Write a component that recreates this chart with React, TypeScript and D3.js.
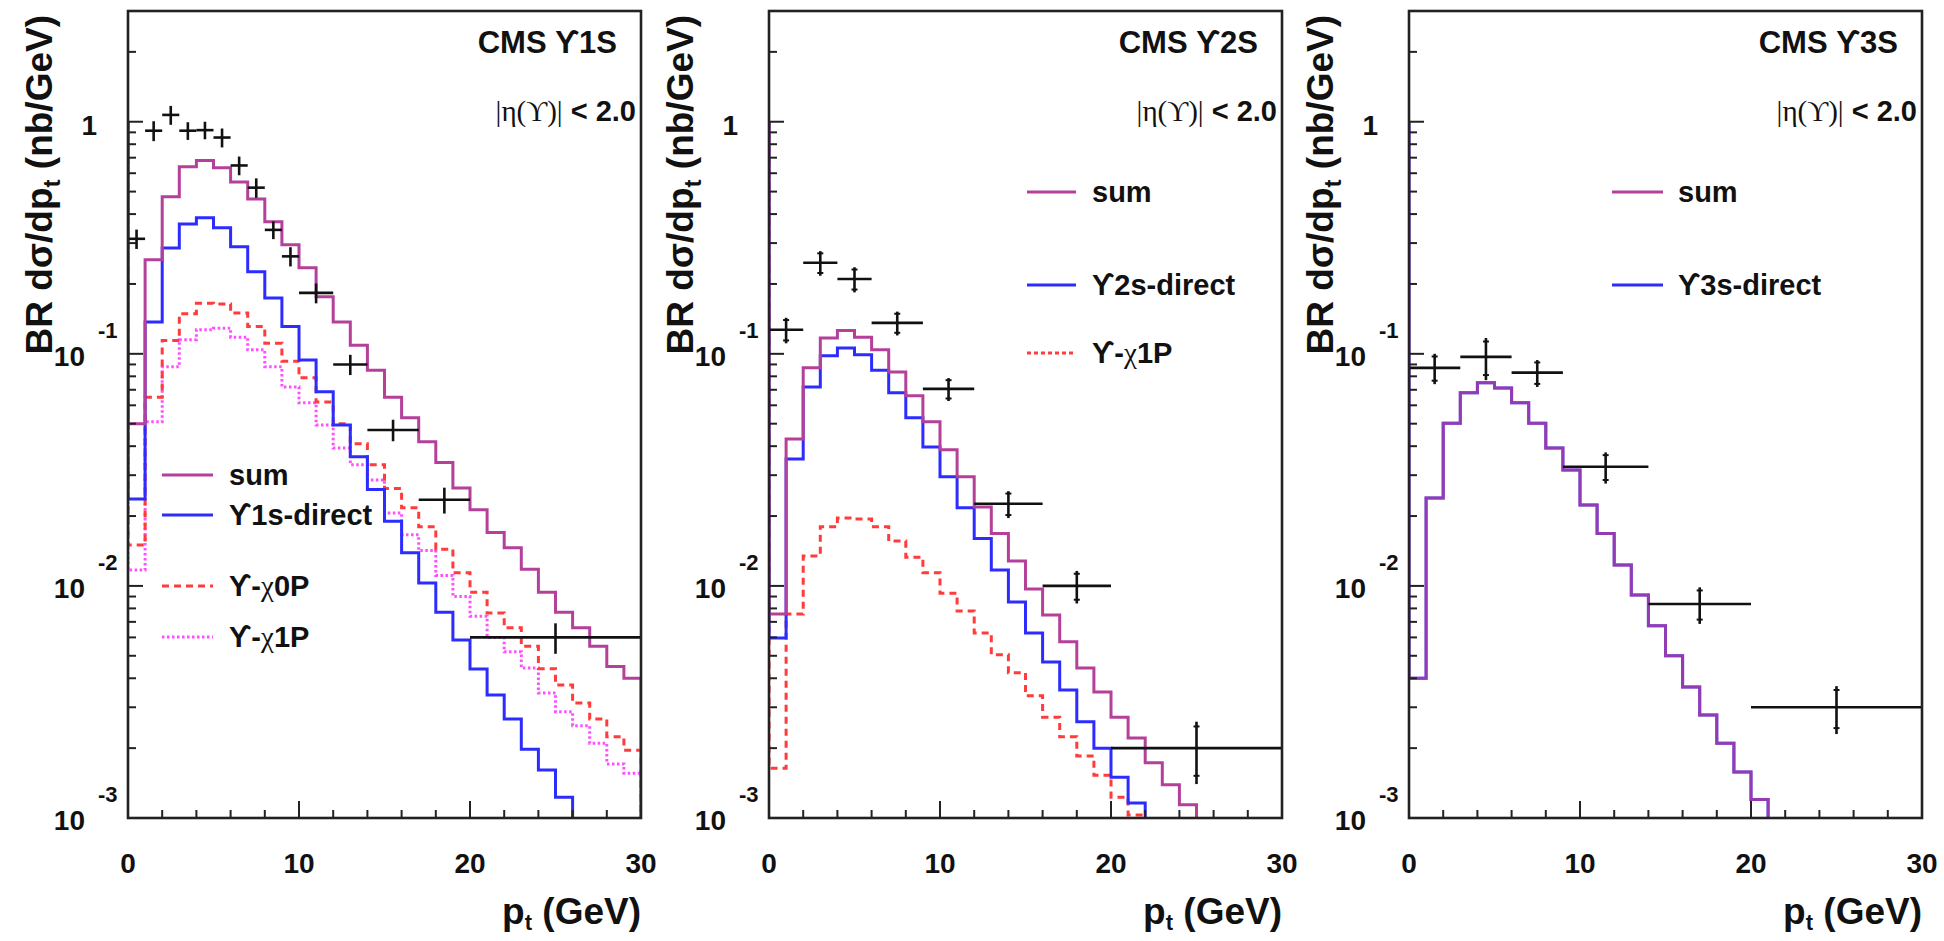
import React from 'react';
import * as d3 from 'd3';

// ---------------- data ----------------
const binEdges = [0, 1, 2, 3, 4, 5, 6, 7, 8, 9, 10, 11, 12, 13, 14, 15, 16, 17, 18, 19, 20, 21, 22, 23, 24, 25, 26, 27, 28, 29, 30];

// Panel 1 : Y1S
const p1Sum = [0.050, 0.254, 0.475, 0.64, 0.68, 0.633, 0.55, 0.465, 0.371, 0.295, 0.235, 0.176, 0.137, 0.109, 0.085, 0.065, 0.053, 0.0418, 0.034, 0.0264, 0.0213, 0.017, 0.0146, 0.0118, 0.0094, 0.0077, 0.0066, 0.0055, 0.0045, 0.004];
const p1Direct = [0.0237, 0.137, 0.286, 0.363, 0.386, 0.349, 0.289, 0.226, 0.174, 0.131, 0.094, 0.0686, 0.0494, 0.036, 0.026, 0.019, 0.0139, 0.0103, 0.0077, 0.00585, 0.00438, 0.00339, 0.00267, 0.00198, 0.00161, 0.00123, 0.0009, 0.0007, 0.00055, 0.00043];
const p1Chi0 = [0.015, 0.065, 0.114, 0.149, 0.165, 0.164, 0.15, 0.131, 0.111, 0.093, 0.0788, 0.062, 0.05, 0.041, 0.0333, 0.0263, 0.0217, 0.018, 0.0144, 0.0114, 0.0094, 0.00765, 0.0066, 0.0055, 0.0044, 0.00374, 0.00313, 0.00267, 0.00224, 0.00196];
const p1Chi1 = [0.0117, 0.051, 0.088, 0.115, 0.127, 0.129, 0.118, 0.104, 0.088, 0.072, 0.0615, 0.0494, 0.0393, 0.0333, 0.0286, 0.0206, 0.0166, 0.0142, 0.0111, 0.009, 0.0074, 0.006, 0.0052, 0.00443, 0.00346, 0.00287, 0.0025, 0.0021, 0.00171, 0.00156];
const p1DataPt = [0.5, 1.5, 2.5, 3.5, 4.5, 5.5, 6.5, 7.5, 8.5, 9.5, 11, 13, 15.5, 18.5, 25];
const p1DataHalfWidth = [0.5, 0.5, 0.5, 0.5, 0.5, 0.5, 0.5, 0.5, 0.5, 0.5, 1, 1, 1.5, 1.5, 5];
const p1DataValue = [0.313, 0.915, 1.07, 0.915, 0.92, 0.855, 0.648, 0.52, 0.342, 0.263, 0.183, 0.09, 0.047, 0.0235, 0.006];
const p1DataErr = [0.03, 0.09, 0.1, 0.08, 0.08, 0.08, 0.06, 0.05, 0.03, 0.025, 0.018, 0.009, 0.005, 0.003, 0.0009];

// Panel 2 : Y2S
const p2Sum = [0.00757, 0.043, 0.087, 0.117, 0.126, 0.118, 0.104, 0.0836, 0.066, 0.051, 0.0386, 0.0295, 0.0219, 0.0168, 0.0128, 0.0097, 0.0075, 0.00574, 0.00443, 0.00349, 0.00272, 0.00221, 0.00173, 0.00139, 0.00114, 0.0009, 0.0007, 0.00055, 0.00043, 0.00034];
const p2Direct = [0.00597, 0.0352, 0.072, 0.098, 0.106, 0.099, 0.085, 0.068, 0.053, 0.0397, 0.0295, 0.0217, 0.016, 0.0117, 0.00853, 0.00627, 0.0047, 0.00356, 0.0026, 0.002, 0.0015, 0.00116, 0.0009, 0.0007, 0.00055, 0.00043, 0.00034, 0.00027, 0.00021, 0.00017];
const p2Chi1 = [0.00164, 0.00757, 0.01346, 0.018, 0.0196, 0.0194, 0.018, 0.0156, 0.0133, 0.0114, 0.0093, 0.0078, 0.00627, 0.00505, 0.00422, 0.00336, 0.00272, 0.00224, 0.00185, 0.00153, 0.00123, 0.00103, 0.0008, 0.00065, 0.0005, 0.0004, 0.00032, 0.00025, 0.0002, 0.00016];
const p2DataPt = [1, 3, 5, 7.5, 10.5, 14, 18, 25];
const p2DataHalfWidth = [1, 1, 1, 1.5, 1.5, 2, 2, 5];
const p2DataValue = [0.127, 0.247, 0.21, 0.136, 0.0706, 0.0226, 0.01, 0.002];
const p2DataErr = [0.016, 0.03, 0.026, 0.016, 0.008, 0.003, 0.0016, 0.0006];

// Panel 3 : Y3S
const p3Sum = [0.004, 0.0239, 0.0502, 0.068, 0.075, 0.0713, 0.0615, 0.0502, 0.0393, 0.0316, 0.0223, 0.0168, 0.0123, 0.00914, 0.00673, 0.005, 0.00367, 0.00278, 0.0021, 0.00158, 0.0012, 0.0009, 0.0007, 0.00055, 0.00043, 0.00034, 0.00027, 0.00021, 0.00017, 0.00013];
const p3Direct = [0.004, 0.0239, 0.0502, 0.068, 0.075, 0.0713, 0.0615, 0.0502, 0.0393, 0.0316, 0.0223, 0.0168, 0.0123, 0.00914, 0.00673, 0.005, 0.00367, 0.00278, 0.0021, 0.00158, 0.0012, 0.0009, 0.0007, 0.00055, 0.00043, 0.00034, 0.00027, 0.00021, 0.00017, 0.00013];
const p3DataPt = [1.5, 4.5, 7.5, 11.5, 17, 25];
const p3DataHalfWidth = [1.5, 1.5, 1.5, 2.5, 3, 5];
const p3DataValue = [0.087, 0.097, 0.083, 0.0326, 0.00836, 0.003];
const p3DataErr = [0.013, 0.02, 0.011, 0.005, 0.0015, 0.0007];

// Axis ticks
const xMajorTicks = [0, 10, 20, 30];
const xMinorTicks = [2, 4, 6, 8, 12, 14, 16, 18, 22, 24, 26, 28];
const yMajorTicks = [1, 0.1, 0.01, 0.001];
const yTickExponents = ['', '-1', '-2', '-3'];
const yMinorTicks = [0.002, 0.003, 0.004, 0.005, 0.006, 0.007, 0.008, 0.009, 0.02, 0.03, 0.04, 0.05, 0.06, 0.07, 0.08, 0.09, 0.2, 0.3, 0.4, 0.5, 0.6, 0.7, 0.8, 0.9, 2];
const yDomain = [0.001, 3];
const xDomain = [0, 30];

// ---------------- style / layout ----------------
const FONT = "'Liberation Sans', Arial, Helvetica, sans-serif";
const SERIF = "'Liberation Serif', 'DejaVu Serif', serif";
const W = 1944;
const H = 941;
const PW = 513;
const TOP = 11;
const BOTTOM = 818;
const SUM = '#b4409a';
const DIRECT = '#2c2cff';
const RED = '#ff3b3b';
const PINK = '#ff50ff';

type Part = { t: string; serif?: boolean };
type Hist = { vals: number[]; color: string; dash?: string; opacity?: number };
type LegendEntry = { y: number; color: string; dash?: string; parts: Part[] };

const panels = [
  {
    left: 128,
    title: 'CMS ϒ1S',
    hists: [
      { vals: p1Chi1, color: PINK, dash: '2.5,2.5' },
      { vals: p1Chi0, color: RED, dash: '7,5' },
      { vals: p1Direct, color: DIRECT },
      { vals: p1Sum, color: SUM },
    ] as Hist[],
    pts: { x: p1DataPt, xe: p1DataHalfWidth, y: p1DataValue, ye: p1DataErr },
    caps: false,
    legend: {
      x0: 34, x1: 85, tx: 101,
      entries: [
        { y: 475, color: SUM, parts: [{ t: 'sum' }] },
        { y: 515, color: DIRECT, parts: [{ t: 'ϒ1s-direct' }] },
        { y: 586, color: RED, dash: '7,5', parts: [{ t: 'ϒ-' }, { t: 'χ', serif: true }, { t: '0P' }] },
        { y: 637, color: PINK, dash: '2.5,2.5', parts: [{ t: 'ϒ-' }, { t: 'χ', serif: true }, { t: '1P' }] },
      ] as LegendEntry[],
    },
  },
  {
    left: 769,
    title: 'CMS ϒ2S',
    hists: [
      { vals: p2Chi1, color: RED, dash: '7,5' },
      { vals: p2Direct, color: DIRECT },
      { vals: p2Sum, color: SUM },
    ] as Hist[],
    pts: { x: p2DataPt, xe: p2DataHalfWidth, y: p2DataValue, ye: p2DataErr },
    caps: true,
    legend: {
      x0: 258, x1: 307, tx: 323,
      entries: [
        { y: 192, color: SUM, parts: [{ t: 'sum' }] },
        { y: 285, color: DIRECT, parts: [{ t: 'ϒ2s-direct' }] },
        { y: 353, color: RED, dash: '4,3', parts: [{ t: 'ϒ-' }, { t: 'χ', serif: true }, { t: '1P' }] },
      ] as LegendEntry[],
    },
  },
  {
    left: 1409,
    title: 'CMS ϒ3S',
    hists: [
      { vals: p3Direct, color: DIRECT },
      { vals: p3Sum, color: SUM, opacity: 0.75 },
    ] as Hist[],
    pts: { x: p3DataPt, xe: p3DataHalfWidth, y: p3DataValue, ye: p3DataErr },
    caps: true,
    legend: {
      x0: 203, x1: 254, tx: 269,
      entries: [
        { y: 192, color: SUM, parts: [{ t: 'sum' }] },
        { y: 285, color: DIRECT, parts: [{ t: 'ϒ3s-direct' }] },
      ] as LegendEntry[],
    },
  },
];

function Panel({ p, idx }: { p: (typeof panels)[number]; idx: number }) {
  const L = p.left;
  const R = L + PW;
  const x = d3.scaleLinear().domain(xDomain).range([L, R]);
  const y = d3.scaleLog().domain(yDomain).range([BOTTOM, TOP]);
  const clipId = `clip${idx}`;

  const histPath = (vals: number[]) => {
    const pts: [number, number][] = [[x(binEdges[0]), y(1)]];
    vals.forEach((v, i) => {
      pts.push([x(binEdges[i]), y(v)]);
      pts.push([x(binEdges[i + 1]), y(v)]);
    });
    pts.push([x(binEdges[binEdges.length - 1]), BOTTOM + 30]);
    return d3.line()(pts) || '';
  };

  return (
    <g>
      <defs>
        <clipPath id={clipId}>
          <rect x={L} y={TOP} width={PW} height={BOTTOM - TOP} />
        </clipPath>
      </defs>
      {/* histograms */}
      <g clipPath={`url(#${clipId})`}>
        {p.hists.map((h, i) => (
          <path key={i} d={histPath(h.vals)} fill="none" stroke={h.color} strokeWidth={3}
            strokeDasharray={h.dash} strokeOpacity={h.opacity ?? 1} />
        ))}
        {/* data points */}
        {p.pts.x.map((xc, i) => {
          const v = p.pts.y[i];
          const e = p.pts.ye[i];
          const cx = x(xc);
          const cy = y(v);
          const yl = y(v - e);
          const yh = y(v + e);
          return (
            <g key={i} stroke="#111" strokeWidth={2.6}>
              <line x1={x(xc - p.pts.xe[i])} x2={x(xc + p.pts.xe[i])} y1={cy} y2={cy} />
              <line x1={cx} x2={cx} y1={yl} y2={yh} />
              {p.caps && (
                <>
                  <line x1={cx - 3} x2={cx + 3} y1={y(v - e * 0.8)} y2={y(v - e * 0.8)} strokeWidth={2} />
                  <line x1={cx - 3} x2={cx + 3} y1={y(v + e * 0.8)} y2={y(v + e * 0.8)} strokeWidth={2} />
                </>
              )}
            </g>
          );
        })}
      </g>

      {/* ticks */}
      <g stroke="#222" strokeWidth={2}>
        {xMajorTicks.map((t) => (
          <line key={`xM${t}`} x1={x(t)} x2={x(t)} y1={BOTTOM} y2={BOTTOM - 17} />
        ))}
        {xMinorTicks.map((t) => (
          <line key={`xm${t}`} x1={x(t)} x2={x(t)} y1={BOTTOM} y2={BOTTOM - 8} />
        ))}
        {yMajorTicks.map((t) => (
          <line key={`yM${t}`} x1={L} x2={L + 15} y1={y(t)} y2={y(t)} />
        ))}
        {yMinorTicks.map((t) => (
          <line key={`ym${t}`} x1={L} x2={L + 8} y1={y(t)} y2={y(t)} />
        ))}
      </g>

      {/* frame */}
      <rect x={L} y={TOP} width={PW} height={BOTTOM - TOP} fill="none" stroke="#222" strokeWidth={2.6} />

      {/* x tick labels */}
      <g fontFamily={FONT} fontWeight="bold" fontSize={28} fill="#111" textAnchor="middle">
        {xMajorTicks.map((t) => (
          <text key={`xl${t}`} x={x(t)} y={873}>{t}</text>
        ))}
      </g>

      {/* y tick labels */}
      <g fontFamily={FONT} fontWeight="bold" fill="#111">
        {yMajorTicks.map((t, i) =>
          yTickExponents[i] === '' ? (
            <text key={`yl${t}`} x={L - 31} y={y(t) + 13} fontSize={28} textAnchor="end">1</text>
          ) : (
            <g key={`yl${t}`}>
              <text x={L - 43} y={y(t) + 12} fontSize={28} textAnchor="end">10</text>
              <text x={L - 30} y={y(t) - 16} fontSize={22} textAnchor="start">{yTickExponents[i]}</text>
            </g>
          )
        )}
      </g>

      {/* axis titles */}
      <text transform={`translate(${L - 76},${15}) rotate(-90)`} textAnchor="end"
        fontFamily={FONT} fontWeight="bold" fontSize={37} fill="#111">
        <tspan>BR dσ/dp</tspan>
        <tspan fontSize={24} dy={8}>t</tspan>
        <tspan dy={-8}> (nb/GeV)</tspan>
      </text>
      <text x={R} y={924} textAnchor="end" fontFamily={FONT} fontWeight="bold" fontSize={37} fill="#111">
        <tspan>p</tspan>
        <tspan fontSize={22} dy={6}>t</tspan>
        <tspan dy={-6}> (GeV)</tspan>
      </text>

      {/* labels */}
      <text x={R - 24} y={53} textAnchor="end" fontFamily={FONT} fontWeight="bold" fontSize={31} fill="#111">
        {p.title}
      </text>
      <text x={R - 5} y={121} textAnchor="end" fontFamily={FONT} fontWeight="bold" fontSize={29} fill="#111">
        <tspan fontFamily={SERIF} fontWeight="normal">|η(ϒ)|</tspan>
        <tspan> &lt; 2.0</tspan>
      </text>

      {/* legend */}
      {p.legend.entries.map((e, i) => (
        <g key={`lg${i}`}>
          <line x1={L + p.legend.x0} x2={L + p.legend.x1} y1={e.y} y2={e.y} stroke={e.color}
            strokeWidth={3} strokeDasharray={e.dash} />
          <text x={L + p.legend.tx} y={e.y + 10} fontFamily={FONT} fontWeight="bold" fontSize={29} fill="#111">
            {e.parts.map((pt, j) => (
              <tspan key={j} fontFamily={pt.serif ? SERIF : undefined} fontWeight={pt.serif ? 'normal' : undefined}>
                {pt.t}
              </tspan>
            ))}
          </text>
        </g>
      ))}
    </g>
  );
}

export default function App() {
  return (
    <svg width={W} height={H} viewBox={`0 0 ${W} ${H}`}
      style={{ position: 'absolute', left: 0, top: 0, background: '#fff', display: 'block' }}>
      <rect x={0} y={0} width={W} height={H} fill="#fff" />
      {panels.map((p, i) => (
        <Panel key={i} p={p} idx={i} />
      ))}
    </svg>
  );
}
